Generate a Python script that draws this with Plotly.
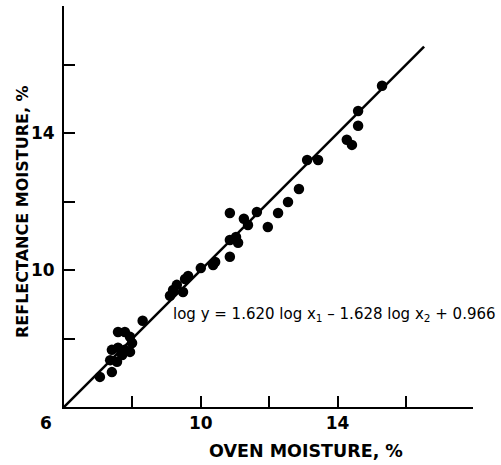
import plotly.graph_objects as go

# Data
oven_moisture = [7.05, 7.40, 7.35, 7.55, 7.40, 7.58, 7.70, 7.78, 7.93, 7.99, 7.93, 7.58, 7.78, 8.30,
                 9.10, 9.19, 9.48, 9.30, 9.54, 9.63, 10.00, 10.36, 10.42, 10.85, 10.85, 11.03, 11.09,
                 10.85, 11.26, 11.38, 11.64, 11.96, 12.26, 12.55, 12.87, 13.11, 13.43, 14.27, 14.42,
                 14.60, 14.60, 15.30]
reflectance_moisture = [6.88, 7.02, 7.37, 7.32, 7.67, 7.73, 7.52, 7.67, 7.61, 7.87, 8.05, 8.19, 8.19, 8.52,
                        9.25, 9.42, 9.36, 9.57, 9.74, 9.83, 10.06, 10.15, 10.24, 10.39, 10.88, 10.97, 10.80,
                        11.67, 11.50, 11.32, 11.70, 11.26, 11.67, 11.99, 12.37, 13.22, 13.22, 13.81, 13.66,
                        14.22, 14.65, 15.39]
fit_line_x = [6.0, 16.53]
fit_line_y = [6.0, 16.53]
tick_vals = [6, 8, 10, 12, 14, 16]
tick_text = ["", "", "<b>10</b>", "", "<b>14</b>", ""]
equation = "log y = 1.620 log x<sub>1</sub> \u2013 1.628 log x<sub>2</sub> + 0.966"

FONT = "DejaVu Sans"

fig = go.Figure()
fig.add_trace(go.Scatter(x=fit_line_x, y=fit_line_y, mode="lines",
                         line=dict(color="black", width=2.5), hoverinfo="skip", showlegend=False))
fig.add_trace(go.Scatter(x=oven_moisture, y=reflectance_moisture, mode="markers",
                         marker=dict(color="black", size=10.5), showlegend=False))

axis_common = dict(
    showgrid=False, zeroline=False, showline=True, linecolor="black", linewidth=2,
    ticks="inside", ticklen=11, tickwidth=2, tickcolor="black",
    tickvals=tick_vals, ticktext=tick_text,
    tickfont=dict(family=FONT, size=17, color="black"),
)

L, R, T, B = 64, 28, 6, 58
W, H = 501, 465
plot_w = W - L - R
plot_h = H - T - B


def px_to_paper(px, py):
    return (px - L) / plot_w, (H - B - py) / plot_h


corner_x, corner_y = px_to_paper(46, 423)
xt_x, xt_y = px_to_paper(306, 451)
yt_x, yt_y = px_to_paper(22, 212)

fig.update_layout(
    width=W, height=H,
    margin=dict(l=L, r=R, t=T, b=B),
    plot_bgcolor="white", paper_bgcolor="white",
    xaxis=dict(range=[6, 17.96], **axis_common),
    yaxis=dict(range=[6, 17.72], ticklabelstandoff=4, **axis_common),
    annotations=[
        dict(text="<b>6</b>", x=corner_x, y=corner_y, xref="paper", yref="paper", showarrow=False,
             xanchor="center", yanchor="middle",
             font=dict(family=FONT, size=17, color="black")),
        dict(text="<b>OVEN MOISTURE, %</b>", x=xt_x, y=xt_y, xref="paper", yref="paper",
             showarrow=False, xanchor="center", yanchor="middle",
             font=dict(family=FONT, size=17.5, color="black")),
        dict(text="<b>REFLECTANCE MOISTURE, %</b>", x=yt_x, y=yt_y, xref="paper", yref="paper",
             showarrow=False, textangle=-90, xanchor="center", yanchor="middle",
             font=dict(family=FONT, size=16, color="black")),
        dict(text=equation, x=9.12, y=8.69, xref="x", yref="y", showarrow=False,
             xanchor="left", yanchor="middle",
             font=dict(family=FONT, size=15, color="black")),
    ],
)

fig.write_html("out.html")
